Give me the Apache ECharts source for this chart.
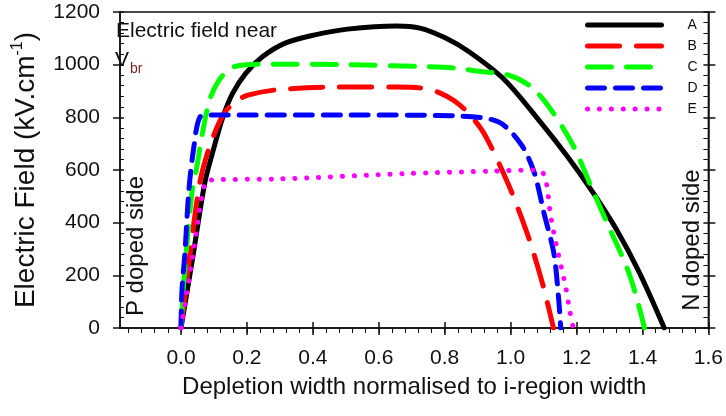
<!DOCTYPE html>
<html>
<head>
<meta charset="utf-8">
<script src="https://cdn.jsdelivr.net/npm/echarts@6/dist/echarts.min.js"></script>
<style>
  html, body { margin: 0; padding: 0; background: #fff; }
  #chart { width: 726px; height: 416px; }
</style>
</head>
<body>
<div id="chart"></div>
<script>
// Electric field profiles across the depletion region (x normalised to i-region width)
const seriesNames = ['A', 'B', 'C', 'D', 'E'];

const xA = [0, 0.036, 0.072, 0.098, 0.127, 0.157, 0.197, 0.247, 0.316, 0.406, 0.505, 0.654, 0.725, 0.803, 0.875, 0.982, 1.093, 1.173, 1.251, 1.322, 1.391, 1.466];
const yA = [0, 270, 550, 676, 801, 892, 968, 1030, 1082, 1113, 1135, 1147, 1139, 1101, 1048, 942, 778, 650, 512, 372, 209, 0];

const xB = [0, 0.024, 0.057, 0.087, 0.131, 0.173, 0.206, 0.287, 0.456, 0.654, 0.74, 0.785, 0.83, 0.875, 0.922, 0.994, 1.052, 1.098, 1.13];
const yB = [0, 247, 550, 690, 816, 866, 885, 904, 915, 915, 910, 893, 862, 812, 733, 543, 353, 163, 0];

const xC = [0, 0.009, 0.033, 0.048, 0.063, 0.087, 0.116, 0.152, 0.197, 0.3, 0.5, 0.725, 0.833, 0.904, 0.994, 1.063, 1.122, 1.191, 1.25, 1.296, 1.352, 1.38, 1.406];
const yC = [0, 182, 512, 611, 725, 866, 942, 987, 1000, 1002, 1000, 993, 987, 975, 960, 915, 830, 690, 520, 390, 232, 125, 0];

const xD = [0, 0.003, 0.012, 0.024, 0.039, 0.057, 0.087, 0.5, 0.845, 0.964, 1.033, 1.072, 1.101, 1.131, 1.146, 1.152];
const yD = [0, 144, 285, 524, 687, 800, 809, 809, 805, 782, 695, 589, 437, 285, 106, 0];

const xE = [0, 0.036, 0.072, 0.09, 0.3, 0.675, 0.95, 1.08, 1.096, 1.107, 1.122, 1.143, 1.167, 1.179, 1.19];
const yE = [0, 275, 550, 562, 566, 586, 596, 600, 592, 562, 423, 290, 156, 68, 0];

const xTickValues = [0, 0.2, 0.4, 0.6, 0.8, 1.0, 1.2, 1.4, 1.6];

const X_MIN = -0.185, X_MAX = 1.6;
const xMinorTicks = [];
for (let k = -4; k <= 40; k++) xMinorTicks.push(+(k * 0.04).toFixed(2));

const FONT = 'Liberation Sans, Arial, Helvetica, sans-serif';

const zip = (xs, ys) => xs.map((x, i) => [x, ys[i]]);

const styles = [
  { color: '#000000', type: 'solid' },
  { color: '#ff0000', type: [32, 17] },
  { color: '#00ff00', type: [24, 15] },
  { color: '#0000ff', type: [17, 11] },
  { color: '#ff00ff', type: [0.1, 11.8] }
];
const xsAll = [xA, xB, xC, xD, xE];
const ysAll = [yA, yB, yC, yD, yE];

const series = seriesNames.map((name, i) => ({
  name,
  type: 'line',
  xAxisIndex: 0,
  yAxisIndex: 0,
  data: zip(xsAll[i], ysAll[i]),
  symbol: 'none',
  smooth: 0.3,
  lineStyle: { color: styles[i].color, width: 5, type: styles[i].type, cap: 'round', join: 'round' },
  itemStyle: { color: styles[i].color, opacity: 0 },
  z: 2 + i
}));

const axisLineStyle = { color: '#111', width: 1.5 };

const chart = echarts.init(document.getElementById('chart'), null, { renderer: 'canvas' });
chart.setOption({
  animation: false,
  backgroundColor: '#ffffff',
  textStyle: { fontFamily: FONT },
  grid: { left: 112, right: 14, top: 12, bottom: 88, show: true, borderColor: '#111', borderWidth: 1.5, backgroundColor: 'transparent' },
  legend: {
    data: seriesNames,
    orient: 'vertical',
    left: 585,
    top: 18,
    padding: 0,
    itemWidth: 74,
    itemHeight: 10,
    itemGap: 7,
    textStyle: { fontSize: 14, color: '#111', fontFamily: FONT, padding: [0, 0, 0, 21] },
    lineStyle: { width: 5 },
    itemStyle: { opacity: 0, borderWidth: 0 },
    selectedMode: false
  },
  xAxis: [
    {
      type: 'value', min: X_MIN, max: X_MAX, position: 'bottom',
      name: 'Depletion width normalised to i-region width',
      nameLocation: 'middle', nameGap: 47,
      nameTextStyle: { fontSize: 24, color: '#111', fontFamily: FONT },
      axisLine: { show: true, onZero: false, lineStyle: axisLineStyle },
      axisTick: { show: true, length: 7, customValues: xTickValues, lineStyle: axisLineStyle },
      axisLabel: { show: true, customValues: xTickValues, fontSize: 21, color: '#111', margin: 20, fontFamily: FONT,
        formatter: v => v.toFixed(1) },
      splitLine: { show: false }
    },
    {
      type: 'value', min: X_MIN, max: X_MAX, position: 'bottom',
      axisLine: { show: false, onZero: false },
      axisTick: { show: true, inside: true, length: 6, customValues: xTickValues, lineStyle: axisLineStyle },
      axisLabel: { show: false },
      splitLine: { show: false }
    },
    {
      type: 'value', min: X_MIN, max: X_MAX, position: 'bottom',
      axisLine: { show: false, onZero: false },
      axisTick: { show: true, length: 5, customValues: xMinorTicks, lineStyle: { color: '#111', width: 1 } },
      axisLabel: { show: false },
      splitLine: { show: false }
    }
  ],
  yAxis: [
    {
      type: 'value', min: 0, max: 1200, interval: 200, position: 'left',
      name: '{n|Electric Field (kV.cm}{s|-1}{n|)}',
      nameLocation: 'middle', nameGap: 80, nameRotate: 90,
      nameTextStyle: {
        color: '#111', fontFamily: FONT,
        rich: {
          n: { fontSize: 28, color: '#111', fontFamily: FONT, lineHeight: 32, verticalAlign: 'bottom' },
          s: { fontSize: 16, color: '#111', fontFamily: FONT, lineHeight: 32, verticalAlign: 'top', padding: [2, 0, 0, 0] }
        }
      },
      axisLine: { show: true, onZero: false, lineStyle: axisLineStyle },
      axisTick: { show: true, inside: true, length: 4, lineStyle: axisLineStyle },
      minorTick: { show: true, splitNumber: 5, length: 4, lineStyle: { color: '#111', width: 1 } },
      axisLabel: { show: true, fontSize: 21, color: '#111', margin: 20, fontFamily: FONT, formatter: v => String(v) },
      splitLine: { show: false }
    },
    {
      type: 'value', min: 0, max: 1200, interval: 200, position: 'left',
      axisLine: { show: false, onZero: false },
      axisTick: { show: true, length: 7, lineStyle: axisLineStyle },
      axisLabel: { show: false },
      splitLine: { show: false }
    },
    {
      type: 'value', min: 0, max: 1200, interval: 200, position: 'right',
      axisLine: { show: true, onZero: false, lineStyle: axisLineStyle },
      axisTick: { show: true, inside: true, length: 5, lineStyle: axisLineStyle },
      minorTick: { show: true, splitNumber: 5, length: 5, lineStyle: { color: '#111', width: 1 } },
      axisLabel: { show: false },
      splitLine: { show: false }
    },
    {
      type: 'value', min: 0, max: 1200, interval: 200, position: 'right',
      axisLine: { show: false, onZero: false },
      axisTick: { show: true, length: 7, lineStyle: axisLineStyle },
      axisLabel: { show: false },
      splitLine: { show: false }
    }
  ],
  graphic: [
    {
      type: 'text', left: 116, top: 21, z: 20,
      style: { text: 'Electric field near', fontSize: 21, fontFamily: FONT, fill: '#111' }
    },
    {
      type: 'text', left: 115, top: 50, z: 20,
      style: { text: 'V', fontSize: 21, fontFamily: FONT, fill: '#111' }
    },
    {
      type: 'text', left: 130, top: 62, z: 20,
      style: { text: 'br', fontSize: 14, fontFamily: FONT, fill: '#7a1f1f' }
    },
    {
      type: 'text', x: 136, y: 246, rotation: Math.PI / 2, z: 20,
      style: { text: 'P doped side', fontSize: 24, fontFamily: FONT, fill: '#111', align: 'center', verticalAlign: 'middle' }
    },
    {
      type: 'text', x: 692, y: 240, rotation: Math.PI / 2, z: 20,
      style: { text: 'N doped side', fontSize: 24, fontFamily: FONT, fill: '#111', align: 'center', verticalAlign: 'middle' }
    }
  ],
  series
});
</script>
</body>
</html>
